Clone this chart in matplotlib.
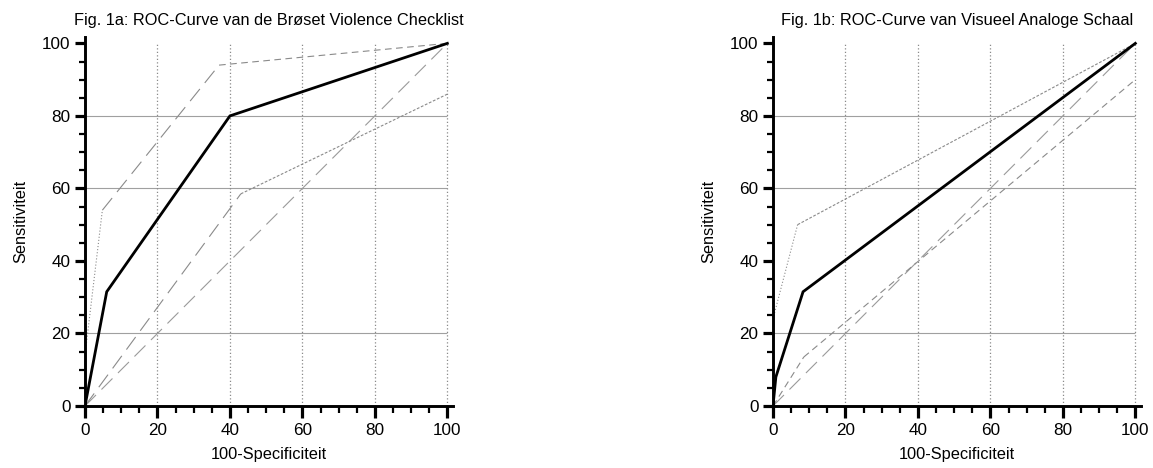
import matplotlib
matplotlib.use("Agg")
import matplotlib.pyplot as plt
from matplotlib.ticker import MultipleLocator

plt.rcParams["font.family"] = ["Liberation Sans", "DejaVu Sans"]

# ---- data ----
titles = ["Fig. 1a: ROC-Curve van de Brøset Violence Checklist",
          "Fig. 1b: ROC-Curve van Visueel Analoge Schaal"]

# Fig. 1a - Brøset Violence Checklist
bvc_x = [0, 6, 40, 100]
bvc_y = [0, 31.5, 80, 100]
bvc_upper_x = [0, 0, 4.8, 37, 100]
bvc_upper_y = [0, 14, 54, 94, 100]
bvc_lower_x = [0, 43, 100]
bvc_lower_y = [0, 58.5, 86]

# Fig. 1b - Visueel Analoge Schaal
vas_x = [0, 0.8, 8.3, 100]
vas_y = [0, 8, 31.5, 100]
vas_upper_x = [0, 0, 6.8, 100]
vas_upper_y = [0, 24, 50, 100]
vas_lower_x = [0, 8.5, 100]
vas_lower_y = [0, 13.5, 90]

diag = [0, 100]

# ---- styles ----
GRAY = "#8a8a8a"
LONG = (0, (14, 7))
SHORT = (0, (6, 4))
FINE = (0, (2.5, 1.5))
DOT = (0, (1, 1.8))


def segments(ax, xs, ys, styles, color=GRAY, lw=0.8):
    for i, ls in enumerate(styles):
        ax.plot(xs[i:i + 2], ys[i:i + 2], color=color, lw=lw, linestyle=ls,
                solid_capstyle="butt", dash_capstyle="butt")


def setup(ax, title):
    ax.set_xlim(0, 101.5)
    ax.set_ylim(0, 101.7)
    for s in ["top", "right"]:
        ax.spines[s].set_visible(False)
    for s in ["left", "bottom"]:
        ax.spines[s].set_linewidth(2.1)
    ax.xaxis.set_major_locator(MultipleLocator(20))
    ax.xaxis.set_minor_locator(MultipleLocator(5))
    ax.yaxis.set_major_locator(MultipleLocator(20))
    ax.yaxis.set_minor_locator(MultipleLocator(5))
    ax.tick_params(axis="x", which="major", length=8.5, width=2.3, labelsize=12.3, pad=4)
    ax.tick_params(axis="x", which="minor", length=5, width=1.6)
    ax.tick_params(axis="y", which="major", length=7.5, width=2.3, labelsize=12.3, pad=3)
    ax.tick_params(axis="y", which="minor", length=4, width=1.6)

    ax.hlines([20, 60, 80], 0, 100, color="#a0a0a0", lw=0.8, zorder=0)
    ax.vlines([20, 40, 60, 80, 100], 0, 100, color="#8a8a8a", lw=0.9,
              linestyles=[DOT], zorder=0)

    ax.set_title(title, fontsize=11.8, pad=9)
    ax.set_xlabel("100-Specificiteit", fontsize=11.8, labelpad=6)
    ax.set_ylabel("Sensitiviteit", fontsize=11.8, labelpad=10)


fig = plt.figure(figsize=(11.53, 4.68), dpi=100)
ax1 = fig.add_axes([0.0737, 0.1325, 0.319, 0.788])
ax2 = fig.add_axes([0.6704, 0.1325, 0.319, 0.788])

setup(ax1, titles[0])
segments(ax1, diag, diag, [LONG], color="#9a9a9a")
segments(ax1, bvc_upper_x, bvc_upper_y, [DOT, DOT, LONG, SHORT])
segments(ax1, bvc_lower_x, bvc_lower_y, [LONG, FINE])
ax1.plot(bvc_x, bvc_y, color="black", lw=2.0, solid_joinstyle="miter")

setup(ax2, titles[1])
segments(ax2, diag, diag, [LONG], color="#9a9a9a")
segments(ax2, vas_upper_x, vas_upper_y, [DOT, DOT, FINE])
segments(ax2, vas_lower_x, vas_lower_y, [SHORT, SHORT])
ax2.plot(vas_x, vas_y, color="black", lw=2.0, solid_joinstyle="miter")

fig.savefig("out.png", dpi=100)
